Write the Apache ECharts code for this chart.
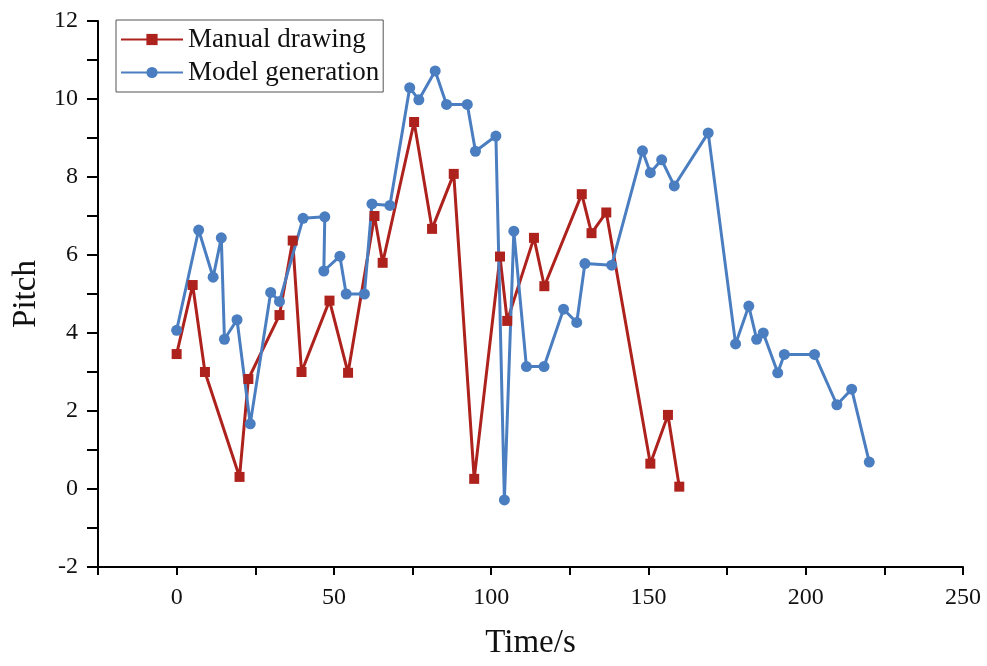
<!DOCTYPE html>
<html>
<head>
<meta charset="utf-8">
<script src="https://cdn.jsdelivr.net/npm/echarts@6/dist/echarts.min.js"></script>
<style>html,body{margin:0;padding:0;background:#fff}#c{width:987px;height:666px}</style>
</head>
<body>
<div id="c"></div>
<script>
// Manual drawing series
const manualTime  = [0, 5.1, 9.0, 20.0, 22.8, 32.7, 36.9, 39.7, 48.6, 54.5, 62.9, 65.5, 75.5, 81.2, 88.1, 94.6, 102.8, 105.1, 113.6, 116.9, 128.8, 131.9, 136.6, 150.6, 156.2, 159.8];
const manualPitch = [3.46, 5.23, 3.0, 0.31, 2.82, 4.46, 6.37, 3.0, 4.83, 2.98, 7.0, 5.80, 9.41, 6.67, 8.08, 0.26, 5.96, 4.31, 6.44, 5.20, 7.56, 6.56, 7.09, 0.65, 1.90, 0.06];
// Model generation series
const modelTime  = [0, 7.0, 11.6, 14.2, 15.2, 19.2, 23.4, 29.9, 32.7, 40.2, 47.1, 46.8, 51.9, 53.9, 59.7, 62.1, 67.8, 74.1, 77.0, 82.2, 85.8, 92.4, 95.0, 101.5, 104.2, 107.2, 111.2, 116.8, 123.0, 127.2, 129.8, 138.3, 148.1, 150.6, 154.2, 158.2, 169.0, 177.7, 181.9, 184.4, 186.5, 191.1, 193.2, 202.8, 209.9, 214.6, 220.2];
const modelPitch = [4.07, 6.64, 5.43, 6.44, 3.84, 4.34, 1.67, 5.04, 4.81, 6.94, 6.98, 5.59, 5.97, 5.0, 5.0, 7.31, 7.27, 10.29, 9.98, 10.72, 9.86, 9.86, 8.66, 9.05, -0.28, 6.61, 3.14, 3.14, 4.61, 4.27, 5.78, 5.74, 8.67, 8.11, 8.44, 7.77, 9.13, 3.72, 4.69, 3.84, 4.0, 2.98, 3.45, 3.45, 2.16, 2.56, 0.69];
const seriesNames = ['Manual drawing', 'Model generation'];
const xLabels = [0, 50, 100, 150, 200, 250];
const xTitle = 'Time/s';
const yTitle = 'Pitch';

const zip = (a, b) => a.map((v, i) => [v, b[i]]);
const FONT = '"Liberation Serif", "Times New Roman", serif';
const RED = '#AE221E';
const BLUE = '#4A7EC0';

const chart = echarts.init(document.getElementById('c'));
chart.setOption({
  animation: false,
  backgroundColor: '#fff',
  textStyle: { fontFamily: FONT },
  grid: { left: 98, right: 24, top: 21, bottom: 99, containLabel: false },
  legend: {
    left: 116, top: 20, orient: 'vertical',
    padding: [6, 4, 6, 4], itemGap: 6, itemWidth: 62, itemHeight: 14,
    borderColor: '#555', borderWidth: 1,
    textStyle: { fontFamily: FONT, fontSize: 27, color: '#111' },
    data: seriesNames
  },
  xAxis: {
    type: 'value', min: -25, max: 250, interval: 25,
    name: xTitle, nameLocation: 'middle', nameGap: 60,
    nameTextStyle: { fontFamily: FONT, fontSize: 33, color: '#111' },
    axisLine: { show: true, onZero: false, lineStyle: { color: '#000', width: 2 } },
    axisTick: { show: true, inside: false, length: 8, lineStyle: { color: '#000', width: 2 } },
    axisLabel: {
      margin: 19, fontFamily: FONT, fontSize: 24, color: '#111',
      formatter: v => xLabels.indexOf(v) >= 0 ? String(v) : ''
    },
    splitLine: { show: false }
  },
  yAxis: {
    type: 'value', min: -2, max: 12, interval: 2,
    name: yTitle, nameLocation: 'middle', nameGap: 55, nameRotate: 90,
    nameTextStyle: { fontFamily: FONT, fontSize: 33, color: '#111' },
    axisLine: { show: true, onZero: false, lineStyle: { color: '#000', width: 2 } },
    axisTick: { show: true, inside: false, length: 11, lineStyle: { color: '#000', width: 2 } },
    minorTick: { show: true, splitNumber: 2, length: 11, lineStyle: { color: '#000', width: 2 } },
    axisLabel: { margin: 20, fontFamily: FONT, fontSize: 24, color: '#111' },
    splitLine: { show: false }
  },
  series: [
    {
      name: seriesNames[0], type: 'line', data: zip(manualTime, manualPitch),
      symbol: 'rect', symbolSize: 10,
      lineStyle: { color: RED, width: 3 }, itemStyle: { color: RED }
    },
    {
      name: seriesNames[1], type: 'line', data: zip(modelTime, modelPitch),
      symbol: 'circle', symbolSize: 11,
      lineStyle: { color: BLUE, width: 3 }, itemStyle: { color: BLUE }
    }
  ]
});
</script>
</body>
</html>
